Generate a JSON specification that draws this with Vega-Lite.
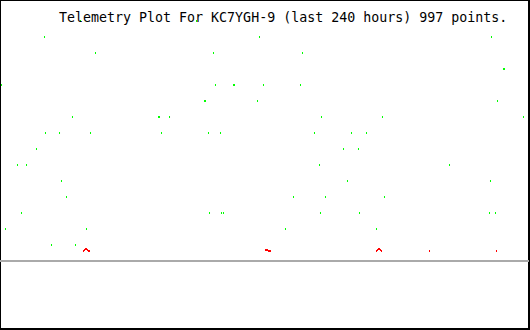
{
  "$schema": "https://vega.github.io/schema/vega-lite/v6.json",
  "width": 529,
  "height": 329,
  "padding": {"left": 0, "top": 0, "right": 1, "bottom": 1},
  "autosize": {"type": "none"},
  "background": "white",
  "title": {
    "text": "Telemetry Plot For KC7YGH-9 (last 240 hours) 997 points.",
    "anchor": "start",
    "frame": "group",
    "orient": "top",
    "offset": 0,
    "dx": 59,
    "dy": 35,
    "baseline": "alphabetic",
    "font": "DejaVu Sans Mono",
    "fontSize": 13.3,
    "fontWeight": "normal",
    "color": "black"
  },
  "config": {
    "view": {"stroke": "black", "strokeWidth": 2, "fill": "white"}
  },
  "data": {
    "values": [
      {"hour": 36.59, "level": 15, "series": "green"},
      {"hour": 89.32, "level": 15, "series": "green"},
      {"hour": 20.23, "level": 14, "series": "green"},
      {"hour": 117.95, "level": 14, "series": "green"},
      {"hour": 223.41, "level": 14, "series": "green"},
      {"hour": 43.41, "level": 13, "series": "green"},
      {"hour": 97.05, "level": 13, "series": "green"},
      {"hour": 137.5, "level": 13, "series": "green"},
      {"hour": 228.86, "level": 12, "series": "green"},
      {"hour": 229.32, "level": 12, "series": "green"},
      {"hour": 0.68, "level": 11, "series": "green"},
      {"hour": 97.95, "level": 11, "series": "green"},
      {"hour": 106.14, "level": 11, "series": "green"},
      {"hour": 106.59, "level": 11, "series": "green"},
      {"hour": 119.77, "level": 11, "series": "green"},
      {"hour": 136.59, "level": 11, "series": "green"},
      {"hour": 92.95, "level": 10, "series": "green"},
      {"hour": 93.41, "level": 10, "series": "green"},
      {"hour": 117.05, "level": 10, "series": "green"},
      {"hour": 226.14, "level": 10, "series": "green"},
      {"hour": 32.95, "level": 9, "series": "green"},
      {"hour": 72.05, "level": 9, "series": "green"},
      {"hour": 72.5, "level": 9, "series": "green"},
      {"hour": 77.05, "level": 9, "series": "green"},
      {"hour": 146.14, "level": 9, "series": "green"},
      {"hour": 173.86, "level": 9, "series": "green"},
      {"hour": 237.95, "level": 9, "series": "green"},
      {"hour": 20.68, "level": 8, "series": "green"},
      {"hour": 27.05, "level": 8, "series": "green"},
      {"hour": 41.14, "level": 8, "series": "green"},
      {"hour": 73.41, "level": 8, "series": "green"},
      {"hour": 94.77, "level": 8, "series": "green"},
      {"hour": 100.23, "level": 8, "series": "green"},
      {"hour": 142.95, "level": 8, "series": "green"},
      {"hour": 159.77, "level": 8, "series": "green"},
      {"hour": 166.59, "level": 8, "series": "green"},
      {"hour": 16.59, "level": 7, "series": "green"},
      {"hour": 156.14, "level": 7, "series": "green"},
      {"hour": 162.95, "level": 7, "series": "green"},
      {"hour": 7.95, "level": 6, "series": "green"},
      {"hour": 12.05, "level": 6, "series": "green"},
      {"hour": 145.23, "level": 6, "series": "green"},
      {"hour": 204.32, "level": 6, "series": "green"},
      {"hour": 27.95, "level": 5, "series": "green"},
      {"hour": 157.95, "level": 5, "series": "green"},
      {"hour": 222.95, "level": 5, "series": "green"},
      {"hour": 30.23, "level": 4, "series": "green"},
      {"hour": 133.41, "level": 4, "series": "green"},
      {"hour": 147.95, "level": 4, "series": "green"},
      {"hour": 174.77, "level": 4, "series": "green"},
      {"hour": 9.77, "level": 3, "series": "green"},
      {"hour": 95.23, "level": 3, "series": "green"},
      {"hour": 100.68, "level": 3, "series": "green"},
      {"hour": 101.59, "level": 3, "series": "green"},
      {"hour": 145.68, "level": 3, "series": "green"},
      {"hour": 163.41, "level": 3, "series": "green"},
      {"hour": 222.5, "level": 3, "series": "green"},
      {"hour": 225.23, "level": 3, "series": "green"},
      {"hour": 2.5, "level": 2, "series": "green"},
      {"hour": 39.32, "level": 2, "series": "green"},
      {"hour": 129.77, "level": 2, "series": "green"},
      {"hour": 171.14, "level": 2, "series": "green"},
      {"hour": 23.41, "level": 1, "series": "green"},
      {"hour": 34.32, "level": 1, "series": "green"},
      {"hour": 37.95, "level": 0.625, "series": "red"},
      {"hour": 38.41, "level": 0.6875, "series": "red"},
      {"hour": 38.86, "level": 0.75, "series": "red"},
      {"hour": 39.32, "level": 0.75, "series": "red"},
      {"hour": 39.77, "level": 0.6875, "series": "red"},
      {"hour": 40.23, "level": 0.625, "series": "red"},
      {"hour": 40.68, "level": 0.625, "series": "red"},
      {"hour": 120.68, "level": 0.6875, "series": "red"},
      {"hour": 121.14, "level": 0.6875, "series": "red"},
      {"hour": 121.59, "level": 0.6875, "series": "red"},
      {"hour": 122.05, "level": 0.625, "series": "red"},
      {"hour": 122.5, "level": 0.625, "series": "red"},
      {"hour": 122.95, "level": 0.625, "series": "red"},
      {"hour": 171.14, "level": 0.625, "series": "red"},
      {"hour": 171.59, "level": 0.6875, "series": "red"},
      {"hour": 172.05, "level": 0.75, "series": "red"},
      {"hour": 172.5, "level": 0.75, "series": "red"},
      {"hour": 172.95, "level": 0.6875, "series": "red"},
      {"hour": 173.41, "level": 0.625, "series": "red"},
      {"hour": 195.23, "level": 0.625, "series": "red"},
      {"hour": 225.68, "level": 0.625, "series": "red"}
    ]
  },
  "layer": [
    {
      "mark": {"type": "rule", "color": "#aaaaaa", "strokeWidth": 2},
      "encoding": {
        "y": {"datum": 0, "type": "quantitative", "scale": {"domain": [-4.25, 16.3125], "nice": false, "zero": false}, "axis": null}
      }
    },
    {
      "mark": {"type": "tick", "orient": "vertical", "size": 2, "thickness": 1, "opacity": 1},
      "encoding": {
        "x": {"field": "hour", "type": "quantitative", "scale": {"domain": [0, 240.4545], "nice": false, "zero": false}, "axis": null},
        "y": {"field": "level", "type": "quantitative", "scale": {"domain": [-4.25, 16.3125], "nice": false, "zero": false}, "axis": null},
        "color": {"field": "series", "type": "nominal", "scale": {"domain": ["green", "red"], "range": ["#00ff00", "#ff0000"]}, "legend": null}
      }
    }
  ]
}
